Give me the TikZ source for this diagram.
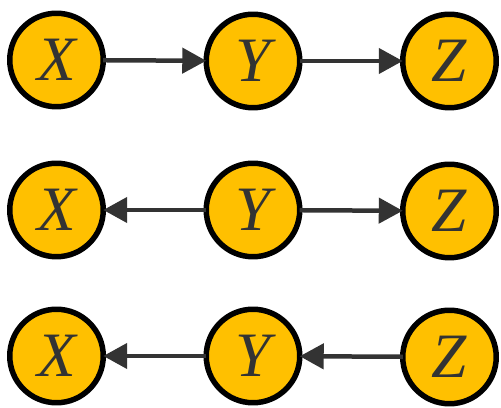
\documentclass[tikz,border=0pt]{standalone}
\usepackage{fontspec}
\usepackage{tikz}
\usepackage{xcolor}
\usetikzlibrary{arrows.meta}

\newfontfamily\varfont{Liberation Serif}
\definecolor{amber}{RGB}{255,192,0}
\definecolor{darkgray}{RGB}{51,51,51}

\begin{document}
\begin{tikzpicture}[x=0.02cm, y=-0.02cm]
    % Define variable and edge styles
    \tikzstyle{var}=[draw=black, line width=0.11cm, circle, fill=amber, minimum size=1.87cm, inner sep=0pt, outer sep=0pt, text=darkgray, font=\varfont\itshape\fontsize{36}{40}\selectfont]
    \tikzstyle{edge}=[draw=darkgray, line width=0.09cm, -{Triangle[length=0.48cm, width=0.5cm]}]

    \useasboundingbox (0,0) rectangle (501,408);

    % Chain X -> Y -> Z
    \node[var] (x1) at (56.5,60) {X};
    \node[var] (y1) at (253,61) {Y};
    \node[var] (z1) at (449.5,61) {Z};

    % Fork X <- Y -> Z
    \node[var] (x2) at (56.5,210) {X};
    \node[var] (y2) at (253,210) {Y};
    \node[var] (z2) at (449.5,211) {Z};

    % Chain X <- Y <- Z
    \node[var] (x3) at (56.5,356) {X};
    \node[var] (y3) at (253,356) {Y};
    \node[var] (z3) at (449.5,357) {Z};

    % Connect variables
    \draw[edge] (x1) -- (y1);
    \draw[edge] (y1) -- (z1);
    \draw[edge] (y2) -- (x2);
    \draw[edge] (y2) -- (z2);
    \draw[edge] (y3) -- (x3);
    \draw[edge] (z3) -- (y3);
\end{tikzpicture}
\end{document}
